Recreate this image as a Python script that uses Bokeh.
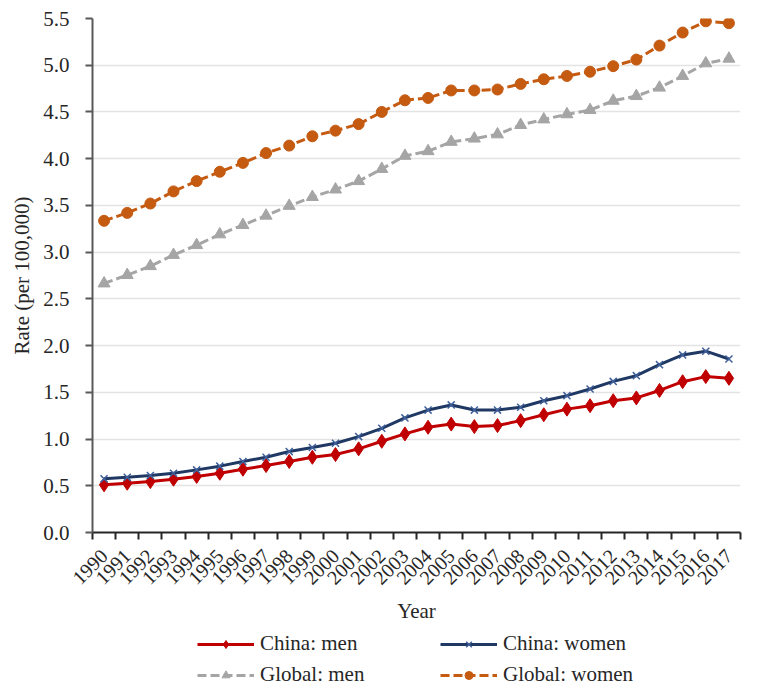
from bokeh.plotting import figure
from bokeh.models import (Range1d, FixedTicker, NumeralTickFormatter, Legend, LegendItem)
from bokeh.layouts import column
from bokeh.embed import file_html
from bokeh.resources import INLINE
import math

years = list(range(1990, 2018))
china_men = [0.51, 0.527, 0.545, 0.57, 0.60, 0.634, 0.677, 0.716, 0.76, 0.805, 0.834, 0.895, 0.976,
             1.055, 1.126, 1.16, 1.133, 1.144, 1.197, 1.26, 1.32, 1.357, 1.41, 1.44, 1.52, 1.614, 1.668, 1.65]
china_women = [0.574, 0.59, 0.61, 0.634, 0.67, 0.71, 0.76, 0.805, 0.866, 0.91, 0.955, 1.026, 1.115,
               1.226, 1.31, 1.365, 1.31, 1.31, 1.34, 1.41, 1.464, 1.536, 1.617, 1.678, 1.796, 1.90, 1.94, 1.857]
global_men = [2.665, 2.755, 2.85, 2.97, 3.075, 3.19, 3.29, 3.39, 3.495, 3.59, 3.67, 3.76, 3.89,
              4.03, 4.08, 4.18, 4.215, 4.26, 4.36, 4.42, 4.475, 4.52, 4.62, 4.67, 4.76, 4.885, 5.02, 5.07]
global_women = [3.335, 3.42, 3.52, 3.65, 3.76, 3.86, 3.955, 4.06, 4.14, 4.24, 4.30, 4.37, 4.50,
                4.625, 4.65, 4.73, 4.73, 4.74, 4.80, 4.85, 4.885, 4.93, 4.99, 5.06, 5.21, 5.35, 5.47, 5.45]
y_ticks = [0.0, 0.5, 1.0, 1.5, 2.0, 2.5, 3.0, 3.5, 4.0, 4.5, 5.0, 5.5]
series_labels = ["China: men", "China: women", "Global: men", "Global: women"]

FONT = "Liberation Serif"
AXIS_COLOR = "#595959"
TEXT = "#262626"

RED = "#C00000"
NAVY = "#1F3864"
NAVY_M = "#40609A"
GRAY = "#A5A5A5"
ORANGE = "#C55A11"


def draw_series(fig):
    l1 = fig.line(years, china_men, line_color=RED, line_width=3)
    m1 = fig.scatter(years, china_men, marker="diamond", size=14, fill_color=RED, line_color=RED)
    l2 = fig.line(years, china_women, line_color=NAVY, line_width=3)
    m2 = fig.scatter(years, china_women, marker="x", size=10, line_color=NAVY_M, line_width=1.5)
    l3 = fig.line(years, global_men, line_color=GRAY, line_width=3, line_dash="9 4")
    m3 = fig.scatter(years, global_men, marker="triangle", size=12, fill_color=GRAY, line_color=GRAY)
    l4 = fig.line(years, global_women, line_color=ORANGE, line_width=3, line_dash="9 4")
    m4 = fig.scatter(years, global_women, marker="circle", size=11, fill_color=ORANGE, line_color=ORANGE)
    return [[l1, m1], [l2, m2], [l3, m3], [l4, m4]]


p = figure(frame_width=648, frame_height=514, output_backend="svg", toolbar_location=None,
           x_range=Range1d(years[0] - 0.5, years[-1] + 0.5), y_range=Range1d(0, 5.5),
           min_border_left=92, min_border_right=16, min_border_top=18, min_border_bottom=0)
p.outline_line_color = None
p.background_fill_color = "white"
p.border_fill_color = "white"

# axes
p.xaxis.ticker = FixedTicker(ticks=years, minor_ticks=[y - 0.5 for y in years] + [years[-1] + 0.5])
p.xaxis.major_tick_line_color = None
p.xaxis.major_tick_out = 7
p.xaxis.major_tick_in = 0
p.xaxis.minor_tick_out = 7
p.xaxis.minor_tick_in = 0
p.xaxis.minor_tick_line_color = TEXT
p.xaxis.minor_tick_line_width = 2
p.xaxis.axis_line_color = TEXT
p.xaxis.axis_line_width = 2
p.xaxis.major_label_orientation = math.pi / 4
p.xaxis.major_label_text_font = FONT
p.xaxis.major_label_text_font_size = "20px"
p.xaxis.major_label_text_color = TEXT
p.xaxis.major_label_standoff = 13
p.xaxis.axis_label = "Year"
p.xaxis.axis_label_text_font = FONT
p.xaxis.axis_label_text_font_size = "21px"
p.xaxis.axis_label_text_font_style = "normal"
p.xaxis.axis_label_text_color = TEXT
p.xaxis.axis_label_standoff = 5

p.yaxis.ticker = FixedTicker(ticks=y_ticks)
p.yaxis.formatter = NumeralTickFormatter(format="0.0")
p.yaxis.major_tick_out = 7
p.yaxis.major_tick_in = 0
p.yaxis.minor_tick_line_color = None
p.yaxis.major_tick_line_color = AXIS_COLOR
p.yaxis.axis_line_color = AXIS_COLOR
p.yaxis.axis_line_width = 2
p.yaxis.major_tick_line_width = 2
p.yaxis.major_label_text_font = FONT
p.yaxis.major_label_text_font_size = "21px"
p.yaxis.major_label_text_color = TEXT
p.yaxis.major_label_standoff = 16
p.yaxis.axis_label = "Rate (per 100,000)"
p.yaxis.axis_label_text_font = FONT
p.yaxis.axis_label_text_font_size = "21px"
p.yaxis.axis_label_text_font_style = "normal"
p.yaxis.axis_label_text_color = TEXT
p.yaxis.axis_label_standoff = 6

p.xgrid.grid_line_color = None
p.ygrid.ticker = FixedTicker(ticks=y_ticks)
p.ygrid.grid_line_color = "#E3E3E3"
p.ygrid.grid_line_width = 1.5

draw_series(p)

# legend strip (separate figure; series drawn out of its view so only the legend shows)
lf = figure(frame_width=648, frame_height=62, output_backend="svg", toolbar_location=None,
            x_range=Range1d(0, 1), y_range=Range1d(0, 1),
            x_axis_location=None, y_axis_location=None,
            min_border_left=92, min_border_right=16, min_border_top=0, min_border_bottom=0)
lf.outline_line_color = None
lf.xgrid.grid_line_color = None
lf.ygrid.grid_line_color = None
lf.background_fill_color = "white"
lf.border_fill_color = "white"
rends = draw_series(lf)

items = [LegendItem(label=lab, renderers=r) for lab, r in zip(series_labels, rends)]
# Bokeh fills legend columns first: order so rows read China (men, women), Global (men, women)
ordered = [items[0], items[2], items[1], items[3]]

legend = Legend(items=ordered, ncols=2, location=(105, 0))
legend.label_text_font = FONT
legend.label_text_font_size = "21px"
legend.label_text_color = TEXT
legend.glyph_width = 57
legend.glyph_height = 20
legend.label_standoff = 6
legend.label_width = 174
legend.spacing = 6
legend.padding = 0
legend.margin = 0
legend.border_line_color = None
legend.background_fill_alpha = 0
legend.inactive_fill_alpha = 0
lf.add_layout(legend, "center")

layout = column(p, lf, spacing=0)
open("out.html", "w").write(file_html(layout, INLINE))
